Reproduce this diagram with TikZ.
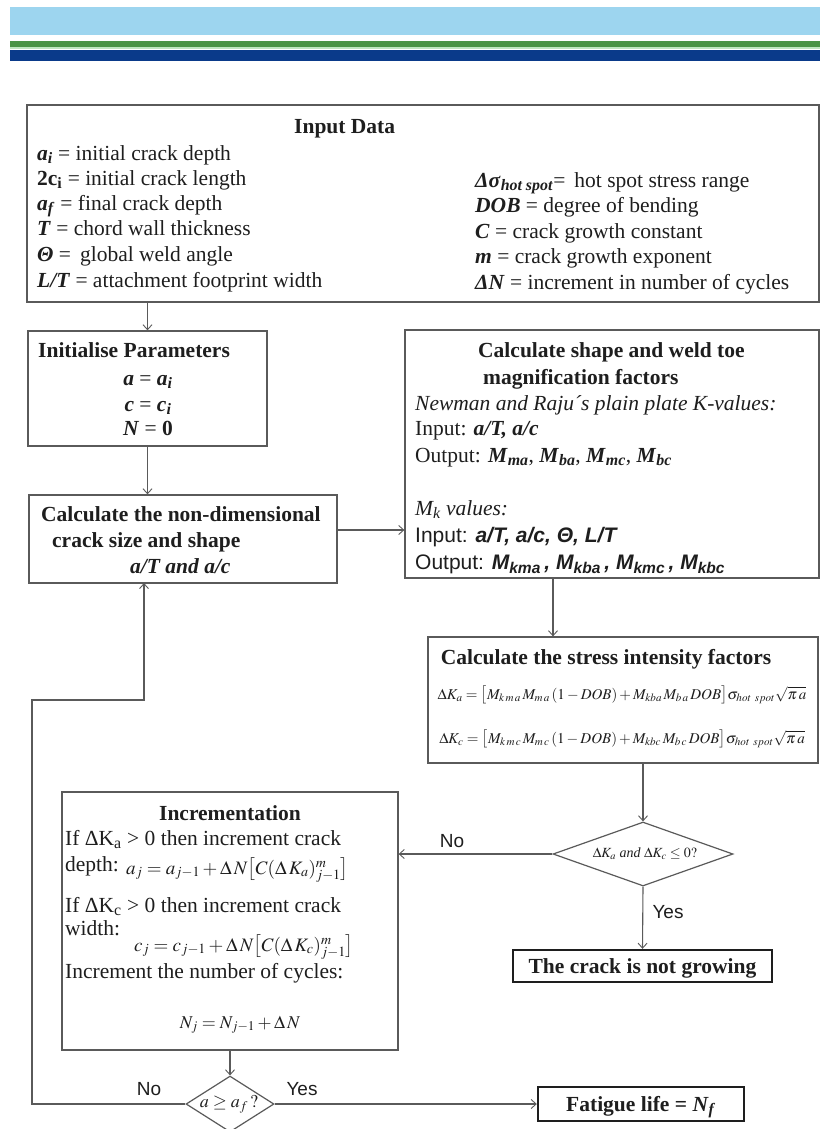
\documentclass[tikz,border=0pt]{standalone}
\usepackage{mathptmx}
\usepackage[no-math]{fontspec}
\setmainfont{Liberation Serif}
\setsansfont{Liberation Sans}
\usetikzlibrary{arrows.meta,shapes.geometric,fit}

\definecolor{bandsky}{HTML}{9DD5EF}
\definecolor{bandgreen}{HTML}{4A9445}
\definecolor{bandlight}{HTML}{BFE6BF}
\definecolor{bandnavy}{HTML}{0A3A8A}
\definecolor{linec}{HTML}{5A5A5A}
\definecolor{inkc}{HTML}{1E1E1E}

\newcommand{\bi}[1]{\textbf{\textit{#1}}}
\newcommand{\fs}[1]{\fontsize{#1}{#1}\selectfont}

\tikzset{
  frame/.style={draw=linec, line width=1.3pt, inner sep=0pt, fill=none},
  heavyframe/.style={draw=inkc, line width=2.4pt, inner sep=0pt},
  choice/.style={draw=linec, line width=1.2pt, diamond, inner sep=0pt},
  txt/.style={anchor=base west, inner sep=0pt, text=inkc, font=\fs{21.5}},
  ctxt/.style={anchor=base, inner sep=0pt, text=inkc, font=\fs{21.5}},
  lbl/.style={anchor=center, inner sep=0pt, text=inkc, font=\sffamily\fs{19}},
  arr/.style={draw=linec, line width=1.1pt, -{Straight Barb[length=5pt,width=9pt,line width=0.9pt]}},
  wire/.style={draw=linec, line width=1.1pt}
}

\begin{document}
\begin{tikzpicture}[x=1pt,y=-1pt]
\useasboundingbox (0,0) rectangle (820,1129);
\fill[white] (0,0) rectangle (820,1129);

% header bands
\fill[bandsky] (10,7) rectangle (820,35);
\fill[bandgreen] (10,41) rectangle (820,47);
\fill[bandlight] (10,47) rectangle (820,49.5);
\fill[bandnavy] (10,50) rectangle (820,61);

% ---------- boxes ----------
\node[frame, fit={(27,105) (819,302)}] (input) {};
\node[frame, fit={(28,331) (267,446)}] (init) {};
\node[frame, fit={(29,495) (337,583)}] (nondim) {};
\node[frame, fit={(405,330) (819,578)}] (shape) {};
\node[frame, fit={(428,637) (818,763)}] (sif) {};
\node[frame, fit={(62,792) (398,1050)}] (incr) {};
\node[heavyframe, fit={(513,950) (772,982)}] (nogrow) {};
\node[heavyframe, fit={(538,1087) (744,1121)}] (fatigue) {};
\node[choice, minimum width=180pt, minimum height=64pt] (d1) at (643,854) {};
\node[choice, minimum width=88pt, minimum height=56pt] (d2) at (230,1104) {};

% ---------- input data ----------
\node[txt, font=\fs{21.5}\bfseries] (tIn) at (294,133) {Input Data};
\node[txt] (in1) at (37,160) {\bi{a}\textsubscript{\bi{i}} = initial crack depth};
\node[txt] (in2) at (37,185) {\textbf{2c}\textsubscript{\textbf{i}} = initial crack length};
\node[txt] (in3) at (37,210) {\bi{a}\textsubscript{\bi{f}} = final crack depth};
\node[txt] (in4) at (37,235) {\bi{T} = chord wall thickness};
\node[txt] (in5) at (37,261) {\bi{Θ} =\, global weld angle};
\node[txt] (in6) at (37,287) {\bi{L/T} = attachment footprint width};
\node[txt] (in7) at (475,187) {\bi{Δσ}\textsubscript{\bi{hot spot}}=\, hot spot stress range};
\node[txt] (in8) at (475,212) {\bi{DOB} = degree of bending};
\node[txt] (in9) at (475,238) {\bi{C} = crack growth constant};
\node[txt] (in10) at (475,263) {\bi{m} = crack growth exponent};
\node[txt] (in11) at (475,289) {\bi{ΔN} = increment in number of cycles};

% ---------- initialise ----------
\node[txt, font=\fs{21.5}\bfseries] (tInit) at (38,357) {Initialise Parameters};
\node[ctxt] (i1) at (148,385) {\bi{a} = \bi{a}\textsubscript{\bi{i}}};
\node[ctxt] (i2) at (148,411) {\bi{c} = \bi{c}\textsubscript{\bi{i}}};
\node[ctxt] (i3) at (148,435) {\bi{N} = \textbf{0}};

% ---------- non-dimensional size ----------
\node[txt, font=\fs{21.5}\bfseries] (n1) at (41,521) {Calculate the non-dimensional};
\node[txt, font=\fs{21.5}\bfseries] (n2) at (52,547) {crack size and shape};
\node[txt] (n3) at (130,573) {\bi{a/T and a/c}};

% ---------- shape and weld toe factors ----------
\node[txt, font=\fs{21.5}\bfseries] (s1) at (478,357) {Calculate shape and weld toe};
\node[txt, font=\fs{21.5}\bfseries] (s2) at (483,384) {magnification factors};
\node[txt, font=\fs{21.5}\itshape] (s3) at (415,410) {Newman and Raju´s plain plate K-values:};
\node[txt] (s4) at (415,435) {Input: \bi{a/T, a/c}};
\node[txt] (s5) at (415,462) {Output: \bi{M}\textsubscript{\bi{ma}}, \bi{M}\textsubscript{\bi{ba}}, \bi{M}\textsubscript{\bi{mc}}, \bi{M}\textsubscript{\bi{bc}}};
\node[txt, font=\fs{21.5}\itshape] (s6) at (415,515) {M\textsubscript{k} values:};
\node[txt, font=\sffamily\fs{21}] (s7) at (415,542) {Input: \textbf{\textit{a/T, a/c, Θ, L/T}}};
\node[txt, font=\sffamily\fs{21}] (s8) at (415,569) {Output: \textbf{\textit{M\textsubscript{kma}\,, M\textsubscript{kba}\,, M\textsubscript{kmc}\,, M\textsubscript{kbc}}}};

% ---------- stress intensity factors ----------
\node[ctxt, font=\fs{21.5}\bfseries] (k0) at (606,664) {Calculate the stress intensity factors};
\node[ctxt, font=\fs{15}] (k1) at (622,699)
  {$\Delta K_a = \bigl[M_{k\,m\,a}\,M_{m\,a}\,(1-DOB)+M_{kba}\,M_{b\,a}\,DOB\bigr]\sigma_{hot\ spot}\sqrt{\pi\,a}$};
\node[ctxt, font=\fs{15}] (k2) at (622,743)
  {$\Delta K_c = \bigl[M_{k\,m\,c}\,M_{m\,c}\,(1-DOB)+M_{kbc}\,M_{b\,c}\,DOB\bigr]\sigma_{hot\ spot}\sqrt{\pi\,a}$};

% ---------- decision: crack growth ----------
\node[anchor=center, inner sep=0pt, text=inkc, font=\fs{14}] (d1t) at (645,854)
  {$\Delta K_a$ \textit{and} $\Delta K_c\le 0?$};

% ---------- incrementation ----------
\node[ctxt, font=\fs{21.5}\bfseries] (c0) at (230,820) {Incrementation};
\node[txt] (c1) at (65,845) {If ΔK\textsubscript{a} > 0 then increment crack};
\node[txt] (c2) at (65,871) {depth:};
\node[txt, font=\fs{19}] (c3) at (126,874) {$a_j = a_{j-1}+\Delta\,N\bigl[C(\Delta\,K_a)^m_{j-1}\bigr]$};
\node[txt] (c4) at (65,912) {If ΔK\textsubscript{c} > 0 then increment crack};
\node[txt] (c5) at (65,935) {width:};
\node[txt, font=\fs{19}] (c6) at (134,951) {$c_j = c_{j-1}+\Delta\,N\bigl[C(\Delta\,K_c)^m_{j-1}\bigr]$};
\node[txt] (c7) at (65,978) {Increment the number of cycles:};
\node[ctxt, font=\fs{18}] (c8) at (240,1028) {$N_j = N_{j-1}+\Delta\,N$};

% ---------- terminals ----------
\node[ctxt, font=\fs{21.5}\bfseries] (ngt) at (642.5,973) {The crack is not growing};
\node[ctxt, font=\fs{21.5}\bfseries] (fgt) at (641,1111) {Fatigue life = \bi{N}\textsubscript{\bi{f}}};
\node[anchor=center, inner sep=0pt, text=inkc, font=\fs{18}] (d2t) at (229,1104) {$a\ge a_f\,?$};

% ---------- connectors ----------
\coordinate (xs) at (553,0);
\coordinate (loopA) at (32,1104);
\coordinate (loopB) at (32,700);
\coordinate (loopC) at (144,700);
\coordinate (ndIn) at (144,583);

\draw[arr] (input.south -| init.north) -- (init.north);
\draw[arr] (init.south) -- (init.south |- nondim.north);
\draw[arr] ([yshift=9pt]nondim.east) -- ([yshift=9pt]nondim.east -| shape.west);
\draw[arr] (shape.south -| xs) -- (sif.north -| xs);
\draw[arr] (sif.south -| d1.north) -- (d1.north);
\draw[arr] (d1.west) -- (d1.west -| incr.east);
\draw[arr] (d1.south) -- (nogrow.north);
\draw[arr] (incr.south) -- (d2.north);
\draw[arr] (d2.east) -- (fatigue.west);
\draw[arr] (d2.west) -- (loopA) -- (loopB) -- (loopC) -- (ndIn);

% branch labels
\node[lbl] (lNo1) at (452,841) {No};
\node[lbl] (lYes1) at (668,912) {Yes};
\node[lbl] (lNo2) at (149,1089) {No};
\node[lbl] (lYes2) at (302,1089) {Yes};
\end{tikzpicture}
\end{document}
